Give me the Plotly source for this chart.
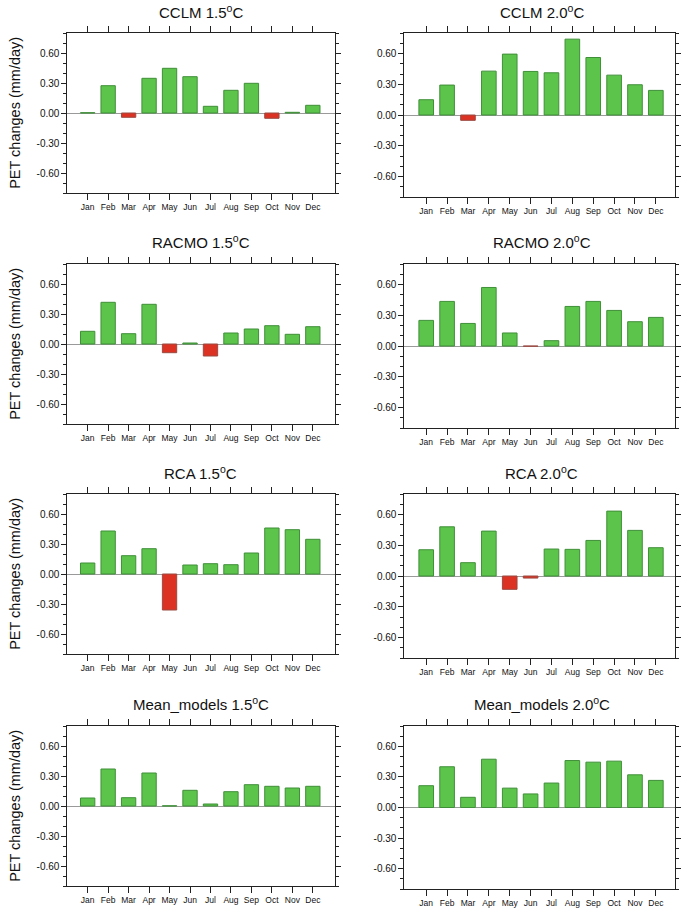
import plotly.graph_objects as go

months = ["Jan", "Feb", "Mar", "Apr", "May", "Jun", "Jul", "Aug", "Sep", "Oct", "Nov", "Dec"]

cclm_15 = [0.003, 0.273, -0.043, 0.347, 0.447, 0.363, 0.067, 0.227, 0.297, -0.053, 0.007, 0.077]
cclm_20 = [0.149, 0.292, -0.052, 0.428, 0.594, 0.425, 0.412, 0.740, 0.561, 0.389, 0.295, 0.240]
racmo_15 = [0.127, 0.417, 0.103, 0.397, -0.087, 0.010, -0.120, 0.110, 0.150, 0.183, 0.097, 0.173]
racmo_20 = [0.250, 0.435, 0.220, 0.571, 0.127, -0.002, 0.052, 0.386, 0.435, 0.347, 0.237, 0.279]
rca_15 = [0.110, 0.430, 0.183, 0.253, -0.360, 0.090, 0.103, 0.093, 0.210, 0.460, 0.443, 0.347]
rca_20 = [0.256, 0.480, 0.130, 0.438, -0.130, -0.020, 0.263, 0.260, 0.347, 0.633, 0.445, 0.276]
mean_15 = [0.080, 0.370, 0.083, 0.330, 0.002, 0.157, 0.020, 0.143, 0.213, 0.197, 0.180, 0.197]
mean_20 = [0.214, 0.400, 0.100, 0.474, 0.190, 0.133, 0.240, 0.461, 0.445, 0.455, 0.321, 0.266]

titles = [
    "CCLM 1.5<sup>o</sup>C", "CCLM 2.0<sup>o</sup>C",
    "RACMO 1.5<sup>o</sup>C", "RACMO 2.0<sup>o</sup>C",
    "RCA 1.5<sup>o</sup>C", "RCA 2.0<sup>o</sup>C",
    "Mean_models 1.5<sup>o</sup>C", "Mean_models 2.0<sup>o</sup>C",
]
series = [cclm_15, cclm_20, racmo_15, racmo_20, rca_15, rca_20, mean_15, mean_20]

ytick_vals = [-0.6, -0.3, 0.0, 0.3, 0.6]
ytick_text = ["-0.60", "-0.30", "0.00", "0.30", "0.60"]
y_title = "PET changes (mm/day)"

# ---- styling / geometry ----
W, H = 681, 913
FONT = "Liberation Sans, Arial, Helvetica, sans-serif"
TXT = "#111111"
AX = "#222222"
GREEN = "#5dc44b"
GREEN_EDGE = "#3f8f38"
RED = "#dc3223"
RED_EDGE = "#9a4a42"

left_x = (68, 337.5)
right_x = (408, 681)
rows_left = [(33, 193), (264, 424), (494, 654), (726, 886)]
rows_right = [(33, 197), (264, 428), (494, 658), (726, 889)]
xr_left = [-0.99, 12.06]
xr_right = [-1.045, 11.917]
title_y = [12, 242, 472, 703]


def px_x(p):
    return p / W


def px_y(p):
    return 1 - p / H


fig = go.Figure()
layout = dict(
    width=W, height=H, margin=dict(l=0, r=0, t=0, b=0),
    paper_bgcolor="white", plot_bgcolor="white", showlegend=False,
    font=dict(family=FONT, color=TXT),
)
annotations = []

for i, (ttl, vals) in enumerate(zip(titles, series)):
    row, col = divmod(i, 2)
    n = i + 1
    xs = "" if n == 1 else str(n)
    xdom = left_x if col == 0 else right_x
    ydom = rows_left[row] if col == 0 else rows_right[row]
    colors = [GREEN if v >= 0 else RED for v in vals]
    edges = [GREEN_EDGE if v >= 0 else RED_EDGE for v in vals]
    fig.add_trace(go.Bar(
        x=list(range(len(months))), y=vals, width=0.7,
        marker=dict(color=colors, line=dict(color=edges, width=1)),
        xaxis="x" + xs, yaxis="y" + xs, hoverinfo="x+y",
    ))
    layout["xaxis" + xs] = dict(
        domain=[px_x(xdom[0]), min(1.0, px_x(xdom[1]))],
        anchor="y" + xs,
        range=xr_left if col == 0 else xr_right,
        tickmode="array", tickvals=list(range(len(months))), ticktext=months,
        ticks="outside", ticklen=6, tickwidth=1, tickcolor=AX,
        showline=True, linecolor=AX, linewidth=1, mirror="ticks",
        showgrid=False, zeroline=False,
        tickfont=dict(size=8.5, family=FONT, color=TXT),
        fixedrange=True,
    )
    layout["yaxis" + xs] = dict(
        domain=[px_y(ydom[1]), px_y(ydom[0])],
        anchor="x" + xs,
        range=[-0.8, 0.8],
        tickmode="array", tickvals=ytick_vals, ticktext=ytick_text,
        ticks="outside", ticklen=5, tickwidth=1, tickcolor=AX,
        minor=dict(tickmode="linear", tick0=0, dtick=0.1, ticks="outside",
                   ticklen=3, tickwidth=1, tickcolor=AX, showgrid=False),
        showline=True, linecolor=AX, linewidth=1, mirror="ticks",
        showgrid=False, zeroline=True, zerolinecolor="#9a9a9a", zerolinewidth=1,
        tickfont=dict(size=10, family=FONT, color=TXT),
        fixedrange=True,
    )
    cx = (xdom[0] + (xdom[1] if col == 0 else 685)) / 2
    annotations.append(dict(
        text=ttl, x=px_x(cx), y=px_y(title_y[row]), xref="paper", yref="paper",
        xanchor="center", yanchor="middle", showarrow=False,
        font=dict(size=15, family=FONT, color=TXT),
    ))
    if col == 0:
        annotations.append(dict(
            text=y_title, x=px_x(15), y=px_y((ydom[0] + ydom[1]) / 2),
            xref="paper", yref="paper", xanchor="center", yanchor="middle",
            textangle=-90, showarrow=False,
            font=dict(size=14.5, family=FONT, color=TXT),
        ))

layout["annotations"] = annotations
fig.update_layout(**layout)
fig.write_html("out.html")
